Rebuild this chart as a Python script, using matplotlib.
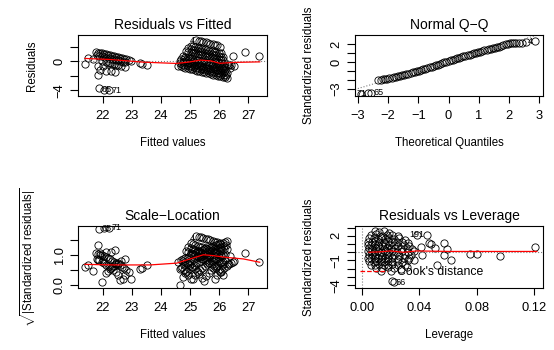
import matplotlib
matplotlib.use('Agg')
import matplotlib.pyplot as plt
from matplotlib.lines import Line2D
import numpy as np

plt.rcParams['font.family'] = 'Liberation Sans'
plt.rcParams['mathtext.fontset'] = 'custom'
plt.rcParams['mathtext.rm'] = 'Liberation Sans'
plt.rcParams['mathtext.it'] = 'Liberation Sans:italic'

# ---- residuals vs fitted (left group)
fit_l1 = [21.76, 21.83, 21.90, 21.97, 22.04, 22.11, 22.18, 22.25, 22.32, 22.39, 22.46, 22.53, 22.60, 22.67, 22.74, 22.81, 22.88]
res_l1 = [1.27, 1.19, 1.12, 1.06, 0.99, 0.93, 0.85, 0.79, 0.72, 0.66, 0.59, 0.52, 0.46, 0.39, 0.33, 0.26, 0.19]
fit_l2 = [21.80, 21.88, 21.96, 22.04, 22.12, 22.20, 22.28, 22.36, 22.44, 22.52, 22.60, 22.68, 22.76]
res_l2 = [0.82, 0.74, 0.66, 0.58, 0.50, 0.42, 0.34, 0.27, 0.19, 0.11, 0.03, -0.05, -0.12]
fit_l3 = [22.10, 22.17, 22.24, 22.31, 22.38, 22.45, 22.52]
res_l3 = [-0.16, -0.23, -0.30, -0.37, -0.44, -0.51, -0.58]
fit_ls = [21.38, 21.47, 21.65, 21.83, 22.00, 21.89, 22.11, 22.29, 21.83, 22.42, 22.63, 22.75, 22.98, 23.27, 23.35, 23.52, 21.95, 21.88, 22.03, 22.20]
res_ls = [-0.40, 0.50, 0.25, -0.73, -0.73, -1.20, -1.30, -1.30, -1.90, -1.50, -0.70, -0.80, 0.05, -0.30, -0.35, -0.50, -0.01, -3.75, -3.95, -3.95]

# ---- residuals vs fitted (right group)
fit_a = [25.22, 25.30, 25.38, 25.46, 25.54, 25.62, 25.70, 25.78, 25.86, 25.94]
res_a = [2.90, 2.82, 2.74, 2.66, 2.58, 2.50, 2.42, 2.34, 2.26, 2.18]
fit_b = [25.02, 25.10, 25.18, 25.26, 25.34, 25.42, 25.50, 25.58, 25.66, 25.74, 25.82, 25.90, 25.98, 26.06]
res_b = [2.10, 2.02, 1.94, 1.86, 1.78, 1.70, 1.62, 1.54, 1.46, 1.38, 1.30, 1.22, 1.14, 1.06]
fit_bc = [24.94, 25.02, 25.10, 25.18, 25.26, 25.34, 25.42, 25.50, 25.58, 25.66, 25.74, 25.82, 25.90, 25.98, 26.06, 26.14]
res_bc = [1.75, 1.67, 1.59, 1.51, 1.43, 1.35, 1.27, 1.19, 1.11, 1.03, 0.95, 0.87, 0.79, 0.71, 0.63, 0.55]
fit_c = [24.86, 24.94, 25.02, 25.10, 25.18, 25.26, 25.34, 25.42, 25.50, 25.58, 25.66, 25.74, 25.82, 25.90, 25.98, 26.06, 26.14]
res_c = [1.40, 1.32, 1.24, 1.16, 1.08, 1.00, 0.92, 0.84, 0.76, 0.68, 0.60, 0.52, 0.44, 0.36, 0.28, 0.20, 0.12]
fit_d = [24.76, 24.84, 24.92, 25.00, 25.08, 25.16, 25.24, 25.32, 25.40, 25.48, 25.56, 25.64, 25.72, 25.80, 25.88, 25.96, 26.04, 26.12, 26.20]
res_d = [0.70, 0.62, 0.54, 0.46, 0.38, 0.30, 0.22, 0.14, 0.06, -0.02, -0.10, -0.18, -0.26, -0.34, -0.42, -0.50, -0.58, -0.66, -0.74]
fit_de = [24.70, 24.78, 24.86, 24.94, 25.02, 25.10, 25.18, 25.26, 25.34, 25.42, 25.50, 25.58, 25.66, 25.74, 25.82, 25.90, 25.98, 26.06, 26.14, 26.22]
res_de = [0.36, 0.28, 0.20, 0.12, 0.04, -0.04, -0.12, -0.20, -0.28, -0.36, -0.44, -0.52, -0.60, -0.68, -0.76, -0.84, -0.92, -1.00, -1.08, -1.16]
fit_e = [24.66, 24.74, 24.82, 24.90, 24.98, 25.06, 25.14, 25.22, 25.30, 25.38, 25.46, 25.54, 25.62, 25.70, 25.78, 25.86, 25.94, 26.02, 26.10, 26.18, 26.26]
res_e = [0.00, -0.08, -0.16, -0.24, -0.32, -0.40, -0.48, -0.56, -0.64, -0.72, -0.80, -0.88, -0.96, -1.04, -1.12, -1.20, -1.28, -1.36, -1.44, -1.52, -1.60]
fit_ef = [24.64, 24.72, 24.80, 24.88, 24.96, 25.04, 25.12, 25.20, 25.28, 25.36, 25.44, 25.52, 25.60, 25.68, 25.76, 25.84, 25.92, 26.00, 26.08, 26.16, 26.24]
res_ef = [-0.32, -0.40, -0.48, -0.56, -0.64, -0.72, -0.80, -0.88, -0.96, -1.04, -1.12, -1.20, -1.28, -1.36, -1.44, -1.52, -1.60, -1.68, -1.76, -1.84, -1.92]
fit_f = [24.60, 24.68, 24.76, 24.84, 24.92, 25.00, 25.08, 25.16, 25.24, 25.32, 25.40, 25.48, 25.56, 25.64, 25.72, 25.80, 25.88, 25.96, 26.04, 26.12, 26.20, 26.28]
res_f = [-0.65, -0.73, -0.81, -0.89, -0.97, -1.05, -1.13, -1.21, -1.29, -1.37, -1.45, -1.53, -1.61, -1.69, -1.77, -1.85, -1.93, -2.01, -2.09, -2.17, -2.25, -2.33]
fit_g = [25.86, 25.94, 26.02, 26.10, 26.18, 26.26, 26.34, 26.42, 26.50]
res_g = [-0.05, -0.12, -0.20, -0.28, -0.36, -0.44, -0.52, -0.60, -0.68]
fit_rs = [26.03, 26.49, 26.90, 27.39, 26.32, 26.38]
res_rs = [2.00, 0.64, 1.20, 0.64, -0.55, -1.00]

# lowess lines
smooth1_x = [21.38, 22.24, 23.39, 24.54, 25.00, 25.34, 25.70, 26.03, 26.48, 27.40]
smooth1_y = [0.37, 0.23, -0.14, -0.32, -0.10, 0.14, 0.05, -0.30, -0.18, -0.10]
smooth3_x = [21.38, 22.36, 23.62, 24.54, 25.00, 25.46, 25.80, 26.27, 26.84, 27.40]
smooth3_y = [0.69, 0.67, 0.67, 0.73, 0.87, 1.01, 0.98, 0.92, 0.87, 0.76]

resid_scale = 1.08

# ---- normal Q-Q
theo = [-2.89, -2.67, -2.56, -2.34, -2.25, -2.17, -2.10, -2.03, -1.96, -1.89, -1.82, -1.75, -1.68,
        -1.61, -1.54, -1.47, -1.40, -1.33, -1.26, -1.19, -1.12, -1.05, -0.98, -0.91, -0.84, -0.77,
        -0.70, -0.63, -0.56, -0.49, -0.42, -0.35, -0.28, -0.21, -0.14, -0.07, 0.00, 0.07, 0.14,
        0.21, 0.28, 0.35, 0.42, 0.49, 0.56, 0.63, 0.70, 0.77, 0.84, 0.91, 0.98, 1.05, 1.12, 1.19,
        1.26, 1.33, 1.40, 1.47, 1.54, 1.61, 1.68, 1.75, 1.82, 1.89, 1.96, 2.03, 2.10, 2.17, 2.25,
        2.35, 2.45, 2.57, 2.85]
sample = [-3.55, -3.50, -3.45, -2.02, -1.98, -1.94, -1.90, -1.85, -1.80, -1.75, -1.70, -1.64, -1.59,
          -1.53, -1.47, -1.41, -1.35, -1.29, -1.23, -1.16, -1.10, -1.03, -0.96, -0.89, -0.82, -0.74,
          -0.67, -0.59, -0.52, -0.44, -0.36, -0.28, -0.20, -0.12, -0.05, 0.03, 0.10, 0.18, 0.26,
          0.33, 0.41, 0.48, 0.55, 0.62, 0.69, 0.76, 0.83, 0.90, 0.96, 1.03, 1.09, 1.15, 1.21, 1.28,
          1.34, 1.40, 1.46, 1.52, 1.58, 1.63, 1.69, 1.76, 1.87, 2.00, 2.04, 2.06, 2.07, 2.08, 2.10,
          2.12, 2.14, 2.20, 2.35]
qq_intercept = 0.05
qq_slope = 1.0

# ---- residuals vs leverage
lev = [0.009, 0.012, 0.015, 0.019,
       0.006, 0.010, 0.014, 0.017, 0.021, 0.025,
       0.005, 0.008, 0.011, 0.013, 0.016, 0.019, 0.022, 0.026, 0.030,
       0.004, 0.007, 0.009, 0.012, 0.015, 0.018, 0.021, 0.024, 0.028, 0.032,
       0.004, 0.006, 0.009, 0.011, 0.014, 0.016, 0.019, 0.022, 0.025, 0.029, 0.033,
       0.005, 0.007, 0.010, 0.012, 0.015, 0.017, 0.020, 0.023, 0.027, 0.031, 0.035,
       0.004, 0.006, 0.008, 0.011, 0.013, 0.016, 0.018, 0.021, 0.024, 0.028, 0.032, 0.036,
       0.005, 0.007, 0.009, 0.012, 0.014, 0.017, 0.019, 0.022, 0.026, 0.030, 0.034,
       0.004, 0.006, 0.009, 0.011, 0.013, 0.016, 0.018, 0.021, 0.025, 0.029, 0.033,
       0.005, 0.008, 0.010, 0.013, 0.015, 0.018, 0.021, 0.024, 0.028, 0.032,
       0.006, 0.009, 0.012, 0.015, 0.018, 0.021, 0.025, 0.030,
       0.010, 0.014, 0.018, 0.022, 0.027,
       0.013, 0.020,
       0.038, 0.045, 0.0466, 0.048, 0.041, 0.051, 0.057, 0.059, 0.057, 0.052, 0.062, 0.0756,
       0.080, 0.0966, 0.121, 0.042, 0.036, 0.031, 0.021, 0.022]
sres = [2.55, 2.45, 2.60, 2.40,
        2.10, 2.20, 2.00, 2.15, 2.05, 1.95,
        1.70, 1.75, 1.60, 1.80, 1.65, 1.70, 1.60, 1.75, 1.50,
        1.30, 1.25, 1.35, 1.30, 1.20, 1.35, 1.25, 1.30, 1.20, 1.10,
        0.90, 0.85, 0.95, 0.90, 0.80, 0.95, 0.85, 0.90, 0.80, 0.90, 0.75,
        0.50, 0.45, 0.55, 0.50, 0.40, 0.55, 0.45, 0.50, 0.40, 0.50, 0.45,
        0.10, 0.15, 0.05, 0.10, 0.00, 0.15, 0.05, 0.10, 0.00, 0.10, 0.05, 0.10,
        -0.30, -0.25, -0.35, -0.30, -0.40, -0.25, -0.35, -0.30, -0.40, -0.30, -0.35,
        -0.70, -0.75, -0.65, -0.70, -0.80, -0.65, -0.75, -0.70, -0.80, -0.70, -0.65,
        -1.10, -1.15, -1.05, -1.10, -1.20, -1.05, -1.15, -1.10, -1.20, -1.00,
        -1.50, -1.55, -1.45, -1.50, -1.60, -1.45, -1.50, -1.55,
        -1.90, -1.95, -1.85, -1.90, -2.00,
        -2.30, -2.25,
        2.10, 2.10, 1.10, 1.00, 0.70, 0.50, 1.10, 0.40, -0.33, -1.55, -0.94, -0.25,
        -0.25, -0.40, 0.70, -0.33, -0.94, -1.75, -3.50, -3.60]
smooth4_x = [0.0047, 0.012, 0.0198, 0.029, 0.038, 0.0617, 0.122]
smooth4_y = [0.0, 0.05, 0.16, 0.0, 0.16, 0.10, 0.10]

fitted = np.array(fit_l1 + fit_l2 + fit_l3 + fit_ls + fit_a + fit_b + fit_bc + fit_c + fit_d
                  + fit_de + fit_e + fit_ef + fit_f + fit_g + fit_rs)
resid = np.array(res_l1 + res_l2 + res_l3 + res_ls + res_a + res_b + res_bc + res_c + res_d
                 + res_de + res_e + res_ef + res_f + res_g + res_rs)
sqrt_std = np.sqrt(np.abs(resid) / resid_scale)

fig = plt.figure(figsize=(5.54, 3.5), dpi=100)
W, H = 554.0, 350.0


def box(x0, y0, x1, y1):
    return fig.add_axes([x0 / W, 1 - y1 / H, (x1 - x0) / W, (y1 - y0) / H])


ax1 = box(78, 35, 267, 96)
ax2 = box(355, 35, 543, 96)
ax3 = box(78, 226, 267, 288)
ax4 = box(355, 226, 543, 288)

pt = dict(ls='none', marker='o', mfc='none', mec='black', ms=5.2, mew=0.6)
small = 6.5


def r_style(ax, title, xlabel, ylabel):
    for s in ax.spines.values():
        s.set_linewidth(0.8)
    ax.tick_params(axis='both', direction='out', width=0.8, labelsize=9.3, colors='black')
    ax.tick_params(axis='x', length=5, pad=5)
    ax.tick_params(axis='y', length=6, pad=3)
    ax.set_title(title, fontsize=10, pad=4)
    ax.set_xlabel(xlabel, fontsize=8.3, labelpad=11)
    ax.set_ylabel(ylabel, fontsize=8.3, labelpad=11)


# panel 1
ax1.plot(fitted, resid, **pt)
ax1.axhline(0, color='gray', ls=':', lw=0.8)
ax1.plot(smooth1_x, smooth1_y, color='red', lw=0.9)
ax1.set_xlim(21.14, 27.65)
ax1.set_ylim(-4.8, 3.6)
ax1.set_xticks([22, 23, 24, 25, 26, 27])
ax1.set_yticks([-4, -2, 0, 2])
ax1.set_yticklabels(['\u22124', '', '0', ''], rotation=90, va='center')
ax1.text(25.15, 2.9, '4', fontsize=small, ha='right', va='center')
ax1.text(21.95, -3.85, '65', fontsize=small, ha='left', va='center')
ax1.text(22.3, -4.1, '71', fontsize=small, ha='left', va='center')
r_style(ax1, 'Residuals vs Fitted', 'Fitted values', 'Residuals')

# panel 2
ax2.plot(theo, sample, **pt)
ax2.axline((0, qq_intercept), slope=qq_slope, color='gray', ls=':', lw=0.8)
ax2.set_xlim(-3.1, 3.13)
ax2.set_ylim(-3.78, 3.0)
ax2.set_xticks([-3, -2, -1, 0, 1, 2, 3])
ax2.set_xticklabels(['\u22123', '\u22122', '\u22121', '0', '1', '2', '3'])
ax2.set_yticks([-3, -2, -1, 0, 1, 2])
ax2.set_yticklabels(['\u22123', '', '', '0', '', '2'], rotation=90, va='center')
ax2.text(2.78, 2.32, '4', fontsize=small, ha='right', va='center')
ax2.text(-2.72, -3.52, '71', fontsize=small, ha='right', va='center')
ax2.text(-2.5, -3.4, '65', fontsize=small, ha='left', va='center')
r_style(ax2, 'Normal Q\u2212Q', 'Theoretical Quantiles', 'Standardized residuals')

# panel 3
ax3.plot(fitted, sqrt_std, **pt)
ax3.plot(smooth3_x, smooth3_y, color='red', lw=0.9)
ax3.set_xlim(21.14, 27.65)
ax3.set_ylim(-0.1, 1.97)
ax3.set_xticks([22, 23, 24, 25, 26, 27])
ax3.set_yticks([0, 0.5, 1.0, 1.5])
ax3.set_yticklabels(['0.0', '', '1.0', ''], rotation=90, va='center')
ax3.text(25.15, 1.56, '4', fontsize=small, ha='right', va='center')
ax3.text(21.95, 1.9, '65', fontsize=small, ha='left', va='center')
ax3.text(22.3, 1.93, '71', fontsize=small, ha='left', va='center')
r_style(ax3, 'Scale\u2212Location', 'Fitted values',
        r'$\sqrt{|\mathrm{Standardized\ residuals}|}$')

# panel 4
ax4.plot(lev, sres, **pt)
ax4.axhline(0, color='gray', ls=':', lw=0.8)
ax4.axvline(0, color='gray', ls=':', lw=0.8)
ax4.plot(smooth4_x, smooth4_y, color='red', lw=0.9)
ax4.set_xlim(-0.005, 0.1263)
ax4.set_ylim(-4.35, 3.2)
ax4.set_xticks([0.0, 0.04, 0.08, 0.12])
ax4.set_xticklabels(['0.00', '0.04', '0.08', '0.12'])
ax4.set_yticks([-4, -3, -2, -1, 0, 1, 2, 3])
ax4.set_yticklabels(['\u22124', '', '', '\u22121', '', '', '2', ''], rotation=90, va='center')
ax4.text(0.0435, 2.15, '191', fontsize=small, ha='right', va='center')
ax4.text(0.0235, -3.65, '66', fontsize=small, ha='left', va='center')
ax4.legend(handles=[Line2D([0], [0], color='red', ls='--', lw=0.9)], labels=["Cook's distance"],
           loc='lower left', bbox_to_anchor=(-0.01, 0.04), frameon=False, fontsize=8.8,
           handlelength=2.2, handletextpad=0.8, borderaxespad=0.2)
r_style(ax4, 'Residuals vs Leverage', 'Leverage', 'Standardized residuals')

fig.savefig('out.png', dpi=100)
